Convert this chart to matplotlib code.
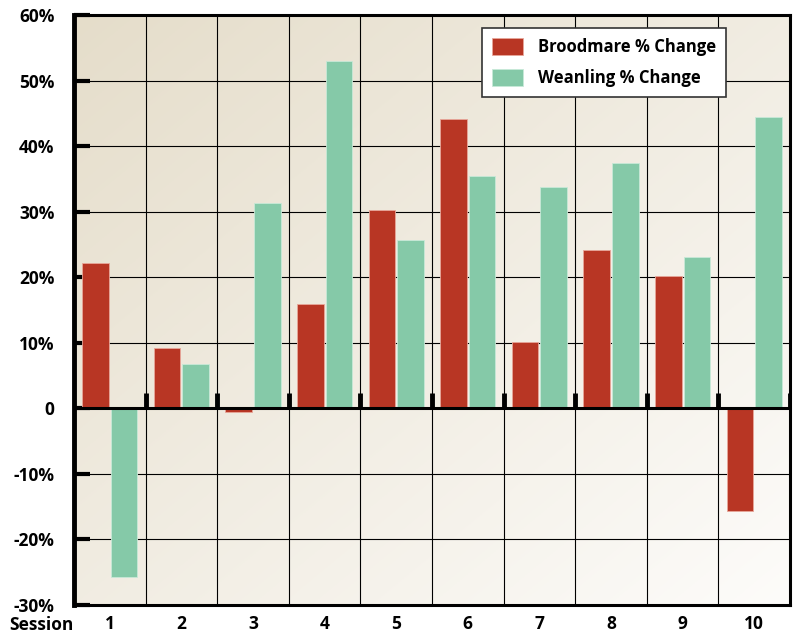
import matplotlib
matplotlib.use('Agg')
import matplotlib.pyplot as plt
import numpy as np

sessions = ['1', '2', '3', '4', '5', '6', '7', '8', '9', '10']
broodmare = [22.2, 9.2, -0.5, 15.9, 30.2, 44.1, 10.1, 24.1, 20.2, -15.6]
weanling = [-25.8, 6.8, 31.3, 53.0, 25.7, 35.4, 33.8, 37.4, 23.1, 44.4]
yticks = [-30, -20, -10, 0, 10, 20, 30, 40, 50, 60]
ylabels = ['-30%', '-20%', '-10%', '0', '10%', '20%', '30%', '40%', '50%', '60%']

red = '#B83624'
green = '#85C9A8'

plt.rcParams['font.family'] = ['Open Sans', 'DejaVu Sans']
plt.rcParams['font.weight'] = 'bold'

fig = plt.figure(figsize=(7.95, 6.33), dpi=100)
ax = fig.add_axes([74/795, 28/633, 716/795, 590/633])

# gradient background, dark top-left to light bottom-right
n = 256
xx, yy = np.meshgrid(np.linspace(0, 1, n), np.linspace(0, 1, n))
t = np.clip((xx + yy) / 2, 0, 1)
c0 = np.array([0xE5, 0xDD, 0xCA]) / 255
c1 = np.array([0xFD, 0xFC, 0xFA]) / 255
img = c0[None, None, :] * (1 - t[..., None]) + c1[None, None, :] * t[..., None]
ax.imshow(img, extent=[0, 1, 0, 1], transform=ax.transAxes, aspect='auto', zorder=0, origin='upper')

x = np.arange(len(sessions))
w = 0.37
ax.bar(x - 0.2, broodmare, width=w, color=red, edgecolor='#E8A79A', linewidth=0.6, zorder=3, label='Broodmare % Change')
ax.bar(x + 0.2, weanling, width=w, color=green, edgecolor='#C8E9D8', linewidth=0.6, zorder=3, label='Weanling % Change')

ax.set_xlim(-0.5, len(sessions) - 0.5)
ax.set_ylim(-30, 60)

# grid
for yv in yticks:
    ax.axhline(yv, color='black', linewidth=0.8, zorder=1)
for xb in np.arange(0.5, len(sessions) - 0.5, 1):
    ax.axvline(xb, color='black', linewidth=0.8, zorder=1)

# zero line with upward ticks at boundaries
ax.axhline(0, color='black', linewidth=2.2, zorder=4)
for xb in np.arange(0.5, len(sessions) - 0.4, 1):
    ax.plot([xb, xb], [0, 2.3], color='black', linewidth=3.5, zorder=4, solid_capstyle='butt')

ax.set_yticks(yticks)
ax.set_yticklabels(ylabels, fontsize=12.5, fontweight='bold')
ax.tick_params(axis='y', direction='in', length=11.5, width=3, pad=14)
ax.set_xticks(x)
ax.set_xticklabels(sessions, fontsize=12.5, fontweight='bold')
ax.tick_params(axis='x', length=0, pad=7)

ax.text(-0.045, -0.034, 'Session', transform=ax.transAxes, fontsize=12.5, fontweight='bold',
        ha='center', va='center')

for side, lw in [('left', 3.5), ('top', 2.2), ('right', 2.2), ('bottom', 2.2)]:
    ax.spines[side].set_linewidth(lw)
    ax.spines[side].set_zorder(5)

leg = ax.legend(loc='upper left', bbox_to_anchor=(0.570, 0.978), borderaxespad=0, fontsize=12,
                frameon=True, fancybox=False, edgecolor='#333333', framealpha=1,
                handlelength=1.85, handleheight=1.2, labelspacing=0.75, borderpad=0.6,
                handletextpad=0.9)
leg.get_frame().set_linewidth(1.2)
leg.set_zorder(6)
for t_ in leg.get_texts():
    t_.set_fontweight('bold')

fig.savefig('out.png', dpi=100)
